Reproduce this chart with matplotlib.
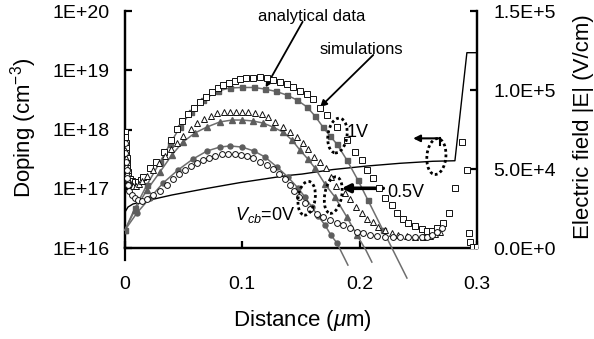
import matplotlib
matplotlib.use('Agg')
import matplotlib.pyplot as plt
from matplotlib.patches import Ellipse
from matplotlib.transforms import ScaledTranslation
from matplotlib.ticker import NullLocator

plt.rcParams['font.family'] = ['Liberation Sans', 'DejaVu Sans']
plt.rcParams['mathtext.fontset'] = 'custom'
plt.rcParams['mathtext.rm'] = 'Liberation Sans'
plt.rcParams['mathtext.it'] = 'Liberation Sans:italic'
plt.rcParams['mathtext.bf'] = 'Liberation Sans:bold'

# ---- doping profile (left axis, cm^-3) ----
dop_x = [0.0, 0.0026, 0.0068, 0.0145, 0.0400, 0.0682, 0.0980, 0.1380, 0.1508,
         0.1772, 0.2062, 0.2343, 0.2624, 0.2812, 0.2914, 0.3000]
dop_n = [4.05e16, 4.92e16, 5.53e16, 6.04e16, 7.85e16, 1.00e17, 1.27e17, 1.67e17,
         1.77e17, 2.11e17, 2.42e17, 2.69e17, 2.91e17, 2.97e17, 1.98e19, 1.98e19]

# ---- electric field, analytical (kV/cm) ----
an1_x = [0.000, 0.0085, 0.0187, 0.0298, 0.0383, 0.0469, 0.0562, 0.0665, 0.0792, 0.0895,
         0.0997, 0.1099, 0.1193, 0.1287, 0.1380, 0.1465, 0.1551, 0.1619, 0.1687, 0.1747,
         0.1806, 0.1891, 0.1985, 0.2070, 0.2198, 0.2403]
an1_e = [11.4, 25.3, 39.9, 54.4, 65.8, 76.6, 86.1, 93.7, 99.4, 101.3,
         101.6, 101.6, 100.6, 99.1, 96.8, 93.7, 89.3, 83.6, 76.6, 70.9,
         65.8, 55.7, 43.0, 30.4, 11.4, -19.0]

an05_x = [0.000, 0.0085, 0.0187, 0.0298, 0.0400, 0.0494, 0.0596, 0.0699, 0.0809, 0.0912,
          0.0997, 0.1091, 0.1176, 0.1261, 0.1346, 0.1423, 0.1491, 0.1559, 0.1619, 0.1704,
          0.1789, 0.1891, 0.1977, 0.2053, 0.2104]
an05_e = [11.4, 24.1, 36.7, 48.1, 58.9, 67.1, 72.8, 76.6, 79.8, 81.0,
          81.0, 80.4, 79.1, 76.6, 73.4, 68.4, 62.0, 56.3, 50.6, 40.5,
          32.3, 19.6, 8.2, -1.3, -8.9]

an0_x = [0.000, 0.0102, 0.0213, 0.0324, 0.0452, 0.0579, 0.0699, 0.0809, 0.0895, 0.0997,
         0.1099, 0.1193, 0.1295, 0.1389, 0.1474, 0.1534, 0.1593, 0.1645, 0.1704, 0.1755,
         0.1806, 0.1900]
an0_e = [11.4, 22.2, 31.7, 41.1, 49.4, 56.3, 61.4, 63.9, 64.6, 63.9,
         61.4, 57.6, 51.3, 44.9, 38.0, 32.3, 25.9, 20.3, 14.6, 8.2,
         3.2, -10.8]

# ---- electric field, simulations (kV/cm) ----
sim1_x = [0.0000, 0.0003, 0.0006, 0.0009, 0.0012, 0.0015, 0.0018, 0.0021, 0.0025, 0.0030,
          0.0045, 0.0060, 0.0085, 0.0110, 0.0136, 0.0150,
          0.0213, 0.0264, 0.0332, 0.0392, 0.0443, 0.0486, 0.0537, 0.0588, 0.0639, 0.0690,
          0.0741, 0.0792, 0.0835, 0.0886, 0.0937, 0.0980, 0.1031, 0.1091, 0.1150, 0.1210,
          0.1261, 0.1321, 0.1380, 0.1431, 0.1491, 0.1551, 0.1602, 0.1662, 0.1721, 0.1806,
          0.1891, 0.1960, 0.2019, 0.2062, 0.2113, 0.2164, 0.2215, 0.2275, 0.2317, 0.2369,
          0.2411, 0.2471, 0.2530, 0.2573, 0.2616, 0.2658, 0.2709, 0.2761, 0.2812, 0.2871,
          0.2914, 0.2932, 0.2940, 0.2966, 0.3000]
sim1_e = [73.4, 70.3, 66.5, 63.3, 60.1, 57.0, 53.8, 50.6, 48.1, 45.6,
          43.7, 42.4, 41.8, 41.8, 43.0, 44.9,
          50.6, 54.4, 60.8, 68.4, 75.3, 80.4, 84.8, 88.6, 92.4, 95.6,
          98.7, 101.3, 103.2, 104.4, 105.7, 107.0, 107.9, 107.9, 108.2, 107.6,
          106.3, 105.1, 103.8, 101.9, 99.4, 97.5, 94.3, 88.6, 84.2, 76.6,
          68.4, 60.8, 55.7, 49.4, 44.3, 38.0, 31.7, 27.2, 22.2, 18.4,
          15.8, 13.9, 12.0, 10.8, 10.8, 12.7, 15.8, 22.2, 38.0, 67.1,
          49.4, 9.5, 3.8, 0.6, 0.6]

sim05_x = [0.0000, 0.0006, 0.0012, 0.0018, 0.0026, 0.0043, 0.0068, 0.0094, 0.0119, 0.0145,
           0.0187, 0.0239, 0.0290, 0.0341, 0.0392, 0.0443, 0.0494, 0.0562, 0.0613, 0.0673,
           0.0733, 0.0784, 0.0843, 0.0895, 0.0946, 0.0997, 0.1048, 0.1108, 0.1168, 0.1219,
           0.1278, 0.1346, 0.1406, 0.1465, 0.1517, 0.1559, 0.1610, 0.1662, 0.1713, 0.1755,
           0.1798, 0.1874, 0.1917, 0.1968, 0.2019, 0.2062, 0.2113, 0.2156, 0.2215, 0.2275,
           0.2326, 0.2403, 0.2471, 0.2539, 0.2599, 0.2641, 0.2684]
sim05_e = [62.0, 57.0, 51.9, 47.5, 43.7, 40.5, 39.2, 39.2, 40.5, 42.4,
           45.6, 49.4, 53.8, 58.2, 62.7, 66.5, 70.9, 75.3, 79.1, 81.7,
           83.6, 85.5, 86.1, 86.1, 86.1, 86.1, 86.1, 85.5, 84.8, 82.9,
           79.8, 76.6, 73.4, 70.3, 66.5, 62.7, 57.6, 54.4, 50.6, 44.9,
           39.2, 34.8, 31.0, 26.0, 22.2, 18.4, 16.5, 13.3, 11.4, 9.5,
           8.2, 7.6, 7.0, 7.0, 7.6, 8.9, 10.1]

sim0_x = [0.0000, 0.0004, 0.0009, 0.0013, 0.0017, 0.0026, 0.0038, 0.0060, 0.0085, 0.0111,
          0.0145, 0.0187, 0.0239, 0.0298, 0.0358, 0.0409, 0.0460, 0.0511, 0.0562, 0.0613,
          0.0665, 0.0716, 0.0767, 0.0826, 0.0878, 0.0937, 0.0988, 0.1039, 0.1091, 0.1150,
          0.1210, 0.1261, 0.1312, 0.1363, 0.1406, 0.1440, 0.1482, 0.1534, 0.1576, 0.1636,
          0.1687, 0.1747, 0.1806, 0.1857, 0.1917, 0.1977, 0.2028, 0.2087, 0.2147, 0.2215,
          0.2283, 0.2343, 0.2411, 0.2471, 0.2530, 0.2573, 0.2616, 0.2658, 0.2701]
sim0_e = [66.5, 60.1, 54.4, 49.4, 44.3, 39.9, 36.1, 33.5, 31.7, 30.4,
          29.8, 31.0, 33.5, 36.1, 39.9, 43.7, 46.8, 49.4, 51.9, 53.8,
          55.7, 57.0, 58.2, 59.5, 59.5, 59.5, 58.9, 58.2, 57.0, 54.4,
          52.5, 50.0, 46.8, 43.7, 39.9, 36.1, 32.3, 28.5, 24.7, 21.5,
          19.6, 17.7, 15.8, 14.6, 12.7, 10.1, 9.5, 8.2, 7.6, 7.0,
          7.0, 7.0, 7.0, 7.0, 7.0, 7.0, 8.2, 10.1, 12.7]

x_ticks = [0, 0.1, 0.2, 0.3]
x_labels = ['0', '0.1', '0.2', '0.3']
dop_ticks = [1e16, 1e17, 1e18, 1e19, 1e20]
dop_labels = ['1E+16', '1E+17', '1E+18', '1E+19', '1E+20']
e_ticks = [0, 5e4, 1e5, 1.5e5]
e_labels = ['0.0E+0', '5.0E+4', '1.0E+5', '1.5E+5']

KV = 1e3  # kV/cm -> V/cm

fig = plt.figure(figsize=(5.94, 3.39), dpi=100)
ax = fig.add_axes([0.2104, 0.2684, 0.5926, 0.6991])
ax2 = ax.twinx()

# doping on the log axis
ax.plot(dop_x, dop_n, color='black', lw=1.0)
ax.set_yscale('log')
ax.set_ylim(1e16, 1e20)
ax.set_xlim(0, 0.3)
ax.set_yticks(dop_ticks)
ax.set_yticklabels(dop_labels)
ax.yaxis.set_minor_locator(NullLocator())
ax.set_xticks(x_ticks)
ax.set_xticklabels(x_labels)

gray = '#6e6e6e'
mgray = '#5e5e5e'

def analytical(xs, es, marker, ms):
    ev = [e * KV for e in es]
    ax2.plot(xs, ev, color=gray, lw=1.1, clip_on=False, zorder=3)
    px = [x for x, e in zip(xs, es) if e >= 0]
    pe = [e * KV for e in es if e >= 0]
    ax2.plot(px, pe, ls='none', marker=marker, ms=ms, color=mgray, mec=mgray, zorder=4)

def simulated(xs, es, marker, ms):
    ax2.plot(xs, [e * KV for e in es], ls='none', marker=marker, ms=ms,
             mfc='white', mec='#111111', mew=0.7, zorder=5)

analytical(an1_x, an1_e, 's', 3.6)
analytical(an05_x, an05_e, '^', 4.2)
analytical(an0_x, an0_e, 'o', 3.6)
simulated(sim1_x, sim1_e, 's', 4.3)
simulated(sim05_x, sim05_e, '^', 4.6)
simulated(sim0_x, sim0_e, 'o', 4.2)

ax2.set_ylim(0, 1.5e5)
ax2.set_yticks(e_ticks)
ax2.set_yticklabels(e_labels)

for a in (ax, ax2):
    a.spines['top'].set_visible(False)
    for s in ('left', 'right', 'bottom'):
        a.spines[s].set_linewidth(1.6)
ax.tick_params(axis='y', direction='in', length=5, width=1.6, pad=11, labelsize=14)
ax.tick_params(axis='x', direction='in', length=5, width=1.6, pad=20, labelsize=14)
ax2.tick_params(axis='y', direction='in', length=5, width=1.6, pad=12, labelsize=14)

# small extension of the y axis line below the x axis
ax.plot([0, 0], [-0.05, 0], transform=ax.get_xaxis_transform(), color='black',
        lw=1.6, clip_on=False)

fig.text(0.040, 0.622, 'Doping (cm$^{-3}$)', rotation=90, ha='center', va='center', fontsize=16)
fig.text(0.982, 0.627, 'Electric field |E| (V/cm)', rotation=90, ha='center', va='center', fontsize=16)
fig.text(0.510, 0.054, r'Distance ($\mu$m)', ha='center', va='center', fontsize=16)

# annotations
arrow = dict(arrowstyle='-|>', color='black', lw=1.3, mutation_scale=10, shrinkA=0, shrinkB=0)
ax2.annotate('', xy=(0.1199, 101.7 * KV), xytext=(0.1514, 143.2 * KV), arrowprops=arrow,
             annotation_clip=False)
ax2.annotate('', xy=(0.1662, 89.1 * KV), xytext=(0.2116, 122.2 * KV), arrowprops=arrow,
             annotation_clip=False)
ax2.text(0.1593, 143.9 * KV, 'analytical data', ha='center', va='baseline', fontsize=12)
ax2.text(0.2017, 122.6 * KV, 'simulations', ha='center', va='baseline', fontsize=12)
ax2.text(0.1891, 70.5 * KV, '1V', ha='left', va='baseline', fontsize=13)
ax2.text(0.2232, 32.5 * KV, '0.5V', ha='left', va='baseline', fontsize=13)
ax2.text(0.0937, 17.7 * KV, r'$V_{cb}$=0V', ha='left', va='baseline', fontsize=13)

ax2.annotate('', xy=(0.1846, 37.8 * KV), xytext=(0.2201, 37.8 * KV),
             arrowprops=dict(arrowstyle='-|>', color='black', lw=2.6, mutation_scale=12,
                             shrinkA=0, shrinkB=0))
ax2.annotate('', xy=(0.2456, 69.4 * KV), xytext=(0.2684, 69.4 * KV),
             arrowprops=dict(arrowstyle='-|>', color='black', lw=1.5, mutation_scale=10,
                             shrinkA=0, shrinkB=0))
ax2.plot([0.2684, 0.2684], [69.4 * KV, 65.2 * KV], color='black', lw=1.5)

ellipses = [(0.1811, 71.2, 0.19, 0.35, -8), (0.1548, 31.5, 0.17, 0.34, -8),
            (0.1775, 33.5, 0.17, 0.37, -10), (0.2654, 57.9, 0.19, 0.36, -5)]
for ex, ey, w, h, ang in ellipses:
    tr = fig.dpi_scale_trans + ScaledTranslation(ex, ey * KV, ax2.transData)
    ax2.add_patch(Ellipse((0, 0), w, h, angle=ang, transform=tr, fill=False,
                          ec='black', lw=2.0, ls=(0, (1, 1)), zorder=6))

fig.savefig('out.png', dpi=100)
